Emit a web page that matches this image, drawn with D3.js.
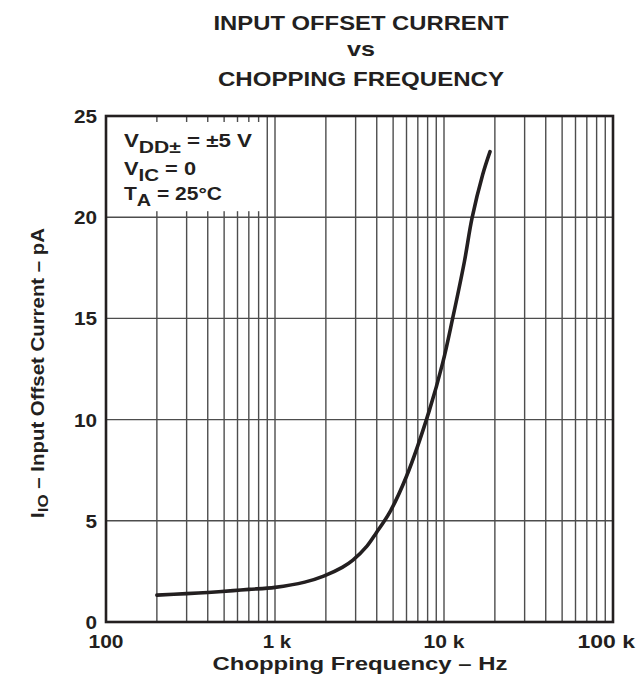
<!DOCTYPE html>
<html><head><meta charset="utf-8">
<script src="https://cdn.jsdelivr.net/npm/d3@7"></script>
<style>body{margin:0;background:#fff}svg{display:block}text{font-family:"Liberation Sans",Arial,sans-serif;font-weight:bold;fill:#231f20}</style>
</head><body><svg id="c" width="639" height="682"></svg>
<script>
const freqHz = [200, 300, 400, 565, 700, 1000, 1500, 1940, 2500, 2890, 3500, 3970, 4760, 6000, 8200, 9825, 11250, 13200, 14650, 16930, 18720];
const ioPA   = [1.33, 1.40, 1.46, 1.55, 1.61, 1.71, 1.97, 2.27, 2.70, 3.06, 3.75, 4.40, 5.40, 7.20, 10.47, 12.8, 15.0, 17.8, 19.95, 22.1, 23.24];
const yTicks = [0, 5, 10, 15, 20, 25];
const xTickVals = [100, 1000, 10000, 100000];
const xTickLabels = ["100", "1 k", "10 k", "100 k"];
const titleLines = ["INPUT OFFSET CURRENT", "vs", "CHOPPING FREQUENCY"];

const svg = d3.select("#c");
const L = 106, R = 613, T = 116, B = 622;
const x = d3.scaleLog().domain([100, 100000]).range([L, R]);
const y = d3.scaleLinear().domain([0, 25]).range([B, T]);
function stretch(sel, f) {
  sel.each(function () { const w = this.getComputedTextLength(); d3.select(this).attr("textLength", w * f).attr("lengthAdjust", "spacingAndGlyphs"); });
}

const vgrid = [];
for (let d = 100; d < 100000; d *= 10) for (let k = 1; k <= 9; k++) if (!(d === 100 && k === 1)) vgrid.push(d * k);
const g = svg.append("g");
g.selectAll("line.v").data(vgrid).join("line")
  .attr("x1", d => x(d)).attr("x2", d => x(d)).attr("y1", T).attr("y2", B)
  .attr("stroke", "#4d4d4d").attr("stroke-width", 1.4);
g.selectAll("line.h").data(yTicks.filter(v => v > 0 && v < 25)).join("line")
  .attr("x1", L).attr("x2", R).attr("y1", d => y(d)).attr("y2", d => y(d))
  .attr("stroke", "#4d4d4d").attr("stroke-width", 1.4);

svg.append("rect").attr("x", L + 1).attr("y", T + 6).attr("width", 263 - L - 1).attr("height", y(20) - T - 12).attr("fill", "#fff");

svg.append("rect").attr("x", L).attr("y", T).attr("width", R - L).attr("height", B - T)
  .attr("fill", "none").attr("stroke", "#231f20").attr("stroke-width", 2.6);

const pts = freqHz.map((f, i) => [f, ioPA[i]]);
svg.append("path").datum(pts)
  .attr("d", d3.line().x(d => x(d[0])).y(d => y(d[1])).curve(d3.curveCatmullRom.alpha(0.5)))
  .attr("fill", "none").attr("stroke", "#231f20").attr("stroke-width", 3.6).attr("stroke-linecap", "round");

svg.selectAll("text.yt").data(yTicks).join("text")
  .attr("x", L - 9).attr("y", d => y(d) + 7).attr("text-anchor", "end")
  .style("font-size", "18px").text(d => d).call(stretch, 1.15);

const xw = [35, 28.5, 41, 57.5];
svg.selectAll("text.xt").data(xTickVals).join("text")
  .attr("x", (d, i) => i === xTickVals.length - 1 ? 635 : x(d) + (i === 1 ? 2 : 0))
  .attr("y", 648).attr("text-anchor", (d, i) => i === xTickVals.length - 1 ? "end" : "middle")
  .style("font-size", "18px").text((d, i) => xTickLabels[i])
  .attr("textLength", (d, i) => xw[i]).attr("lengthAdjust", "spacingAndGlyphs");

const tw = [295, 28, 286];
svg.selectAll("text.title").data(titleLines).join("text")
  .attr("x", 361).attr("y", (d, i) => [30, 56, 86][i]).attr("text-anchor", "middle")
  .style("font-size", "21px").text(d => d)
  .attr("textLength", (d, i) => tw[i]).attr("lengthAdjust", "spacingAndGlyphs");

svg.append("text").attr("x", 360).attr("y", 670).attr("text-anchor", "middle")
  .style("font-size", "19px").text("Chopping Frequency – Hz")
  .attr("textLength", 295).attr("lengthAdjust", "spacingAndGlyphs");

const yt = svg.append("text").attr("transform", "translate(44,373) rotate(-90)").attr("text-anchor", "middle")
  .style("font-size", "18px").attr("textLength", 290).attr("lengthAdjust", "spacingAndGlyphs");
yt.append("tspan").text("I");
yt.append("tspan").attr("dy", 4).style("font-size", "15px").text("IO");
yt.append("tspan").attr("dy", -4).text(" – Input Offset Current – pA");

const lg = svg.append("g").style("font-size", "18px");
function legendLine(yy, main, sub, rest, w) {
  const t = lg.append("text").attr("x", 124).attr("y", yy).attr("textLength", w).attr("lengthAdjust", "spacingAndGlyphs");
  t.append("tspan").text(main);
  t.append("tspan").attr("dy", 6).style("font-size", "17px").text(sub);
  t.append("tspan").attr("dy", -6).text(rest);
}
legendLine(147, "V", "DD±", " = ±5 V", 128);
legendLine(175, "V", "IC", " = 0", 72);
legendLine(200, "T", "A", " = 25°C", 98);
</script></body></html>
